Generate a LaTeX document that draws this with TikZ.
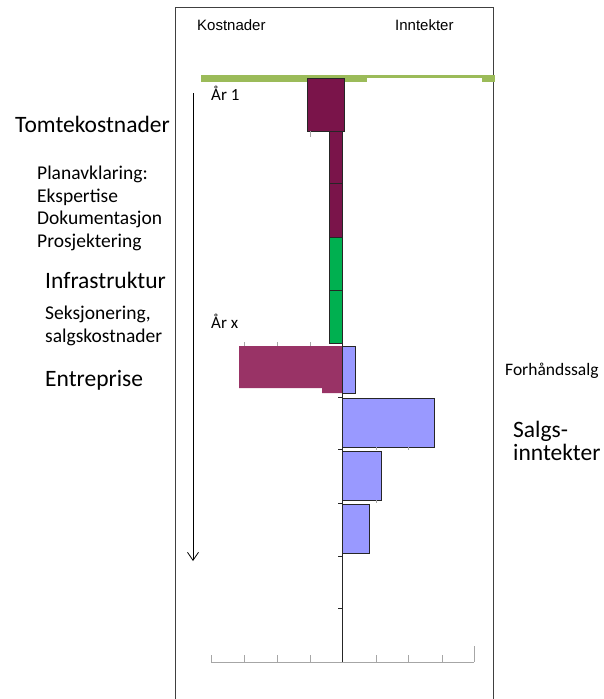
\documentclass[tikz,border=0pt]{standalone}
\usepackage{fontspec}
\setmainfont{Carlito}
\newfontfamily\arialfont{Liberation Sans}
\usetikzlibrary{arrows.meta}
\definecolor{wine}{RGB}{122,20,74}
\definecolor{plum}{RGB}{153,51,102}
\definecolor{leaf}{RGB}{0,176,80}
\definecolor{lilac}{RGB}{153,153,255}
\definecolor{olive}{RGB}{155,187,89}

\begin{document}
\begin{tikzpicture}[x=1pt,y=-1pt,
    bar/.style={draw=black!85, line width=0.6pt},
    lbl/.style={anchor=base west, inner sep=0pt},
    bigtxt/.style={lbl, font=\fontsize{23.5}{27}\selectfont},
    smalltxt/.style={lbl, font=\fontsize{19.5}{23}\selectfont},
    gridtick/.style={draw=black!35, line width=0.8pt}]
    \useasboundingbox (0,0) rectangle (603,699);

    % Frame round the chart (open at the bottom)
    \draw[black!75, line width=1pt] (175,699) -- (175,7) -- (493,7) -- (493,699);
    \node[lbl, font=\arialfont\fontsize{15}{18}\selectfont] (kost) at (197,30) {Kostnader};
    \node[lbl, font=\arialfont\fontsize{15}{18}\selectfont] (innt) at (395,30) {Inntekter};

    % Green start line
    \fill[olive] (201,75) rectangle (367,82);
    \fill[olive] (367,75) rectangle (482,78);
    \fill[olive] (482,75) rectangle (495,82);

    % Time arrow on the left
    \coordinate (tstart) at (193,93);
    \coordinate (tend) at (193,561);
    \draw[-{Straight Barb[length=8pt,width=11pt]}, line width=0.8pt] (tstart) -- (tend);
    \node[lbl, font=\fontsize{17}{20}\selectfont] (aar1) at (211,100) {År 1};
    \node[lbl, font=\fontsize{17}{20}\selectfont] (aarx) at (211,328) {År x};

    % Value axes
    \draw[black!85, line width=0.8pt] (342,78) -- (342,662);
    \foreach \y in {397,449,503,556,608} \draw[black!85, line width=0.8pt] (338,\y) -- (342,\y);
    \draw[gridtick] (211,662) -- (474,662);
    \foreach \x in {211,244,277,310,376,408,442} \draw[gridtick] (\x,655) -- (\x,662);
    \draw[gridtick] (474,646) -- (474,662);

    % Cost bars
    \draw[bar, fill=wine] (307,78) rectangle (344,131);
    \foreach \x in {310,329} \draw[gridtick] (\x,131) -- (\x,137);
    \draw[bar, fill=wine] (329,131) rectangle (342,183);
    \draw[bar, fill=wine] (329,183) rectangle (342,237);
    \draw[bar, fill=leaf] (329,237) rectangle (342,290);
    \draw[bar, fill=leaf] (329,290) rectangle (342,343);
    \foreach \x in {244,277,310} \draw[gridtick] (\x,342) -- (\x,346);
    \fill[plum] (239,346) -- (342,346) -- (342,393) -- (322,393) -- (322,388) -- (239,388) -- cycle;

    % Income bars
    \draw[bar, fill=lilac] (342,346) rectangle (355,393);
    \draw[bar, fill=lilac] (342,398) rectangle (434,447);
    \foreach \x in {376,408} \draw[gridtick] (\x,447) -- (\x,450);
    \draw[bar, fill=lilac] (342,451) rectangle (381,500);
    \draw[gridtick] (376,500) -- (376,503);
    \draw[bar, fill=lilac] (342,504) rectangle (369,553);

    % Phase labels on the left
    \node[bigtxt] (tomt) at (15,132) {Tomtekostnader};
    \node[smalltxt] (plan) at (37,179) {Planavklaring:};
    \node[smalltxt] (eksp) at (37,202) {Ekspertise};
    \node[smalltxt] (doku) at (37,224) {Dokumentasjon};
    \node[smalltxt] (pros) at (37,247) {Prosjektering};
    \node[bigtxt] (infra) at (45,288) {Infrastruktur};
    \node[smalltxt] (seks) at (45,319) {Seksjonering,};
    \node[smalltxt] (salgk) at (45,342) {salgskostnader};
    \node[bigtxt] (entr) at (45,386) {Entreprise};

    % Income labels on the right
    \node[lbl, font=\fontsize{17.5}{20}\selectfont] (forh) at (505,375) {Forhåndssalg};
    \node[bigtxt] (salg) at (513,437) {Salgs-};
    \node[bigtxt] (salgi) at (513,460) {inntekter};
\end{tikzpicture}
\end{document}
